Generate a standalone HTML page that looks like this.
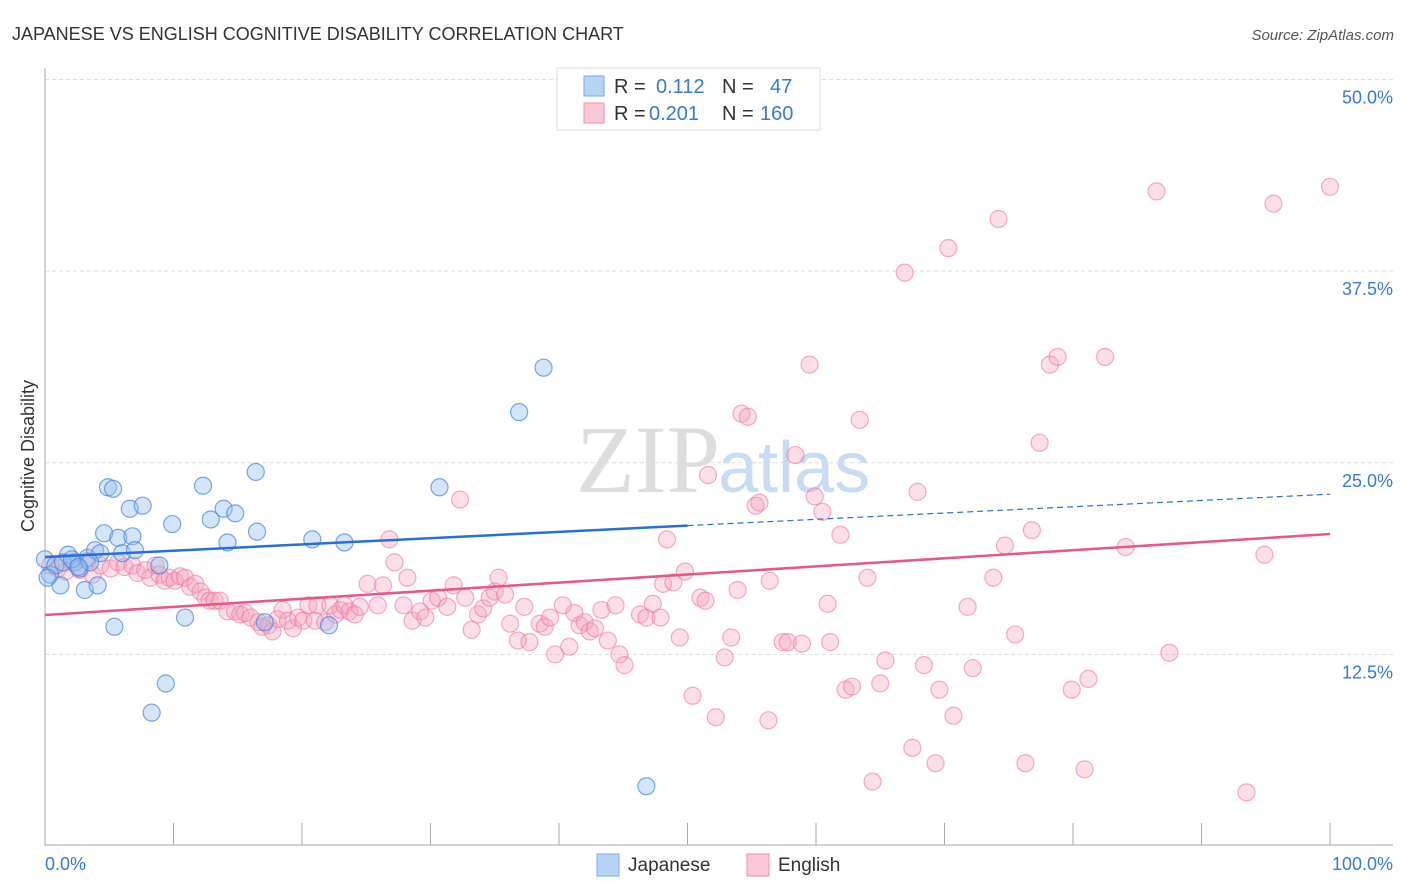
<!DOCTYPE html>
<html><head><meta charset="utf-8"><style>
html,body{margin:0;padding:0;background:#fff;width:1406px;height:892px;overflow:hidden}
svg text{font-family:"Liberation Sans",sans-serif}
</style></head><body>
<svg id="chart" width="1406" height="892" xmlns="http://www.w3.org/2000/svg">
<text x="12" y="40" font-size="18" fill="#333">JAPANESE VS ENGLISH COGNITIVE DISABILITY CORRELATION CHART</text>
<text x="1394" y="40" font-size="15" fill="#555" font-style="italic" text-anchor="end">Source: ZipAtlas.com</text>
<text transform="translate(34,456) rotate(-90)" font-size="18" fill="#333" text-anchor="middle">Cognitive Disability</text>
<text x="720" y="492" font-size="96" fill="#ddd" font-family="Liberation Serif" text-anchor="end" style="font-family:'Liberation Serif',serif">ZIP</text>
<text x="718" y="492" font-size="72" fill="#c9dbf3">atlas</text>
<g id="grid"></g><g id="axes"></g><g id="pinkpts"></g><g id="bluepts"></g><g id="trends"></g>
<g>
<rect x="557" y="68" width="263" height="62" fill="#fff" stroke="#ddd"/>
<rect x="584" y="76" width="20" height="20" fill="#b8d4f5" stroke="#7aaae6"/>
<rect x="584" y="103" width="20" height="20" fill="#fac8d7" stroke="#f08fae"/>
<text x="614" y="93" font-size="20" fill="#333">R = </text><text x="656" y="93" font-size="20" fill="#3a78d4">0.112</text>
<text x="722" y="93" font-size="20" fill="#333">N = </text><text x="770" y="93" font-size="20" fill="#3a78d4">47</text>
<text x="614" y="120" font-size="20" fill="#333">R = </text><text x="649" y="120" font-size="20" fill="#3a78d4">0.201</text>
<text x="722" y="120" font-size="20" fill="#333">N = </text><text x="760" y="120" font-size="20" fill="#3a78d4">160</text>
</g>
<g>
<rect x="597" y="854" width="22" height="22" fill="#b8d4f5" stroke="#7aaae6"/>
<text x="628" y="871" font-size="19" fill="#333">Japanese</text>
<rect x="747" y="854" width="22" height="22" fill="#fac8d7" stroke="#f08fae"/>
<text x="778" y="871" font-size="19" fill="#333">English</text>
</g>
</svg>
<script>
const blueX=[0,0.4,0.8,1.2,1.8,2.3,2.7,3.1,3.3,3.9,4.1,4.3,4.6,4.9,5.3,5.4,5.7,6.0,6.6,6.8,7.0,7.6,8.3,8.9,9.4,9.9,10.9,12.3,12.9,13.9,14.2,14.8,16.4,16.5,17.1,20.8,22.1,23.3,30.7,36.9,38.8,46.8,1.4,2.1,3.5,0.2,2.6];
const blueY=[18.7,17.7,18.3,17.0,19.0,18.5,18.1,16.7,18.8,19.3,17.0,19.1,20.4,23.4,23.3,14.3,20.1,19.1,22.0,20.2,19.3,22.2,8.7,18.3,10.6,21.0,14.9,23.5,21.3,22.0,19.8,21.7,24.4,20.5,14.6,20.0,14.4,19.8,23.4,28.3,31.2,3.9,18.5,18.7,18.5,17.5,18.2];
const pinkX=[0.4,1.0,1.6,2.1,2.7,3.3,3.7,4.3,5.1,5.7,6.2,6.8,7.2,7.8,8.2,8.6,8.9,9.3,9.7,10.1,10.5,10.9,11.3,11.7,12.1,12.5,12.8,13.2,13.6,14.2,14.8,15.2,15.6,16.0,16.6,16.9,17.4,17.7,18.1,18.5,18.9,19.3,19.7,20.1,20.5,21.0,21.2,21.8,22.2,22.6,23.0,23.3,23.7,24.1,24.5,25.1,25.9,26.3,26.8,27.2,27.9,28.2,28.6,29.2,29.6,30.1,30.6,31.3,31.8,32.3,32.7,33.2,33.7,34.1,34.6,35.0,35.3,35.8,36.2,36.8,37.3,37.7,38.5,38.9,39.3,39.7,40.3,40.8,41.2,41.6,42.0,42.4,42.8,43.3,43.8,44.4,44.7,45.1,46.3,46.8,47.3,47.9,48.1,48.4,48.9,49.4,49.8,50.4,51.0,51.4,51.6,52.2,52.9,53.4,53.9,54.2,54.7,55.3,55.6,56.3,56.4,57.4,57.8,58.4,58.9,59.5,59.9,60.5,60.9,61.1,61.9,62.3,62.8,63.4,64.0,64.4,65.0,65.4,66.9,67.5,67.9,68.4,69.3,69.6,70.3,70.7,71.8,72.2,73.8,74.2,74.7,75.5,76.3,76.8,77.4,78.2,78.8,79.9,80.9,81.2,82.5,84.1,86.5,87.5,93.5,94.9,95.6,100];
const pinkY=[18.3,18.1,17.9,18.5,18.0,18.6,17.7,18.3,18.1,18.5,18.2,18.3,17.8,18.0,17.5,18.3,17.7,17.3,17.5,17.3,17.6,17.5,16.9,17.1,16.6,16.2,16.0,16.0,16.0,15.3,15.3,15.1,15.2,14.9,14.6,14.3,14.4,14.0,14.8,15.4,14.7,14.2,14.9,14.7,15.7,14.7,15.7,14.6,15.7,15.1,15.4,15.7,15.3,15.1,15.6,17.1,15.7,17.0,20.0,18.5,15.7,17.5,14.7,15.3,14.9,16.0,16.2,15.6,17.0,22.6,16.2,14.1,15.1,15.5,16.2,16.6,17.5,16.4,14.5,13.4,15.6,13.3,14.5,14.3,14.9,12.5,15.7,13.0,15.2,14.4,14.6,14.0,14.2,15.4,13.4,15.7,12.5,11.8,15.1,14.9,15.8,14.9,17.1,20.0,17.2,13.6,17.9,9.8,16.2,16.0,24.2,8.4,12.3,13.6,16.7,28.2,28.0,22.2,22.4,8.2,17.3,13.3,13.3,25.5,13.2,31.4,22.8,21.8,15.8,13.3,20.3,10.2,10.4,27.8,17.5,4.2,10.6,12.1,37.4,6.4,23.1,11.8,5.4,10.2,39.0,8.5,15.6,11.6,17.5,40.9,19.6,13.8,5.4,20.6,26.3,31.4,31.9,10.2,5.0,10.9,31.9,19.5,42.7,12.6,3.5,19.0,41.9,43.0];
const yTicks=[12.5,25.0,37.5,50.0];
const xTicks=[0,10,20,30,40,50,60,70,80,90,100];
const blueTrend=[18.85,0.041];
const pinkTrend=[15.07,0.0528];
const NS='http://www.w3.org/2000/svg';
const X=v=>45+v*12.85, Y=v=>846-v*15.33;
function mk(tag,attrs,parent){const e=document.createElementNS(NS,tag);for(const k in attrs)e.setAttribute(k,attrs[k]);parent.appendChild(e);return e;}
const grid=document.getElementById('grid'),axes=document.getElementById('axes');
yTicks.forEach(t=>{
 const l=mk('line',{x1:45,x2:1393,y1:Y(t),y2:Y(t),stroke:'#ddd','stroke-dasharray':'4,3'},grid);
 
 
 const tx=mk('text',{x:1393,y:Y(t)+24,'font-size':18,fill:'#3a78d4','text-anchor':'end'},grid);
 tx.textContent=t.toFixed(1)+'%';
 
 
});
mk('line',{x1:45,x2:45,y1:68,y2:846,stroke:'#aaa'},axes);
mk('line',{x1:45,x2:1393,y1:845,y2:845,stroke:'#aaa'},axes);
xTicks.forEach(t=>{
 const l=mk('line',{x1:X(t),x2:X(t),y1:823,y2:845,stroke:'#aaa'},axes);
 
 
});
const x0=mk('text',{x:45,y:870,'font-size':18,fill:'#3a78d4'},axes);x0.textContent='0.0%';


const x1=mk('text',{x:1393,y:870,'font-size':18,fill:'#3a78d4','text-anchor':'end'},axes);x1.textContent='100.0%';


const pg=document.getElementById('pinkpts');
pinkX.forEach((v,i)=>{
 const c=mk('circle',{cx:X(v),cy:Y(pinkY[i]),r:8.5,fill:'rgba(246,160,190,0.35)',stroke:'rgba(236,120,160,0.6)','stroke-width':1.2},pg);
 
 
});
const bg=document.getElementById('bluepts');
blueX.forEach((v,i)=>{
 const c=mk('circle',{cx:X(v),cy:Y(blueY[i]),r:8.5,fill:'rgba(150,190,240,0.4)',stroke:'rgba(70,130,220,0.7)','stroke-width':1.2},bg);
 
 
});
const tg=document.getElementById('trends');
const bt=mk('line',{x1:X(0),y1:Y(blueTrend[0]),x2:X(50),y2:Y(blueTrend[0]+blueTrend[1]*50),stroke:'#2a6fd6','stroke-width':2.5},tg);


const bd=mk('line',{x1:X(50),y1:Y(blueTrend[0]+blueTrend[1]*50),x2:X(100),y2:Y(blueTrend[0]+blueTrend[1]*100),stroke:'#2a6fd6','stroke-width':1.2,'stroke-dasharray':'6,4'},tg);


const pt=mk('line',{x1:X(0),y1:Y(pinkTrend[0]),x2:X(100),y2:Y(pinkTrend[0]+pinkTrend[1]*100),stroke:'#e8578a','stroke-width':2.5},tg);


</script>
</body></html>
